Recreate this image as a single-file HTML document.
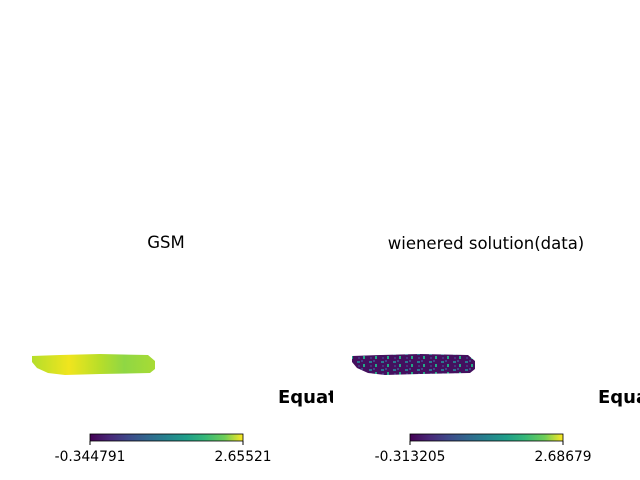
<!DOCTYPE html>
<html><head><meta charset="utf-8"><style>
body{margin:0;background:#fff;}
svg{display:block;font-family:"DejaVu Sans","Liberation Sans",sans-serif;}
</style></head><body>
<svg width="640" height="480" viewBox="0 0 640 480">
<defs>
<linearGradient id="vir" x1="0" x2="1" y1="0" y2="0">
<stop offset="0" stop-color="#440154"/><stop offset="0.13" stop-color="#482878"/>
<stop offset="0.25" stop-color="#3e4989"/><stop offset="0.38" stop-color="#31688e"/>
<stop offset="0.5" stop-color="#26828e"/><stop offset="0.63" stop-color="#1f9e89"/>
<stop offset="0.75" stop-color="#35b779"/><stop offset="0.88" stop-color="#6ece58"/>
<stop offset="1" stop-color="#fde725"/></linearGradient>
<linearGradient id="gsm" x1="0" x2="1" y1="0" y2="0">
<stop offset="0" stop-color="#b5de2b"/><stop offset="0.3" stop-color="#f0e51e"/>
<stop offset="0.55" stop-color="#b8de29"/><stop offset="0.75" stop-color="#8fd744"/>
<stop offset="1" stop-color="#a8db34"/></linearGradient>
<pattern id="noise" width="12" height="8" patternUnits="userSpaceOnUse">
<rect width="12" height="8" fill="#44105e"/>
<rect x="1" y="1" width="3" height="2" fill="#2a788e"/>
<rect x="7" y="4" width="2" height="3" fill="#22a884"/>
<rect x="5" y="0" width="2" height="2" fill="#414487"/>
<rect x="2" y="5" width="2" height="2" fill="#46337e"/>
</pattern>
<path id="strip" d="M32,356 L60,355 L100,354 L148,355 L155,361 L155,369 L150,373 L100,374 L65,375 L48,373 L37,368 L32,362 Z"/>
</defs>
<text x="166" y="248" font-size="16.5" text-anchor="middle">GSM</text>
<text x="486" y="249" font-size="16.5" text-anchor="middle">wienered solution(data)</text>
<use href="#strip" fill="url(#gsm)"/>
<use href="#strip" transform="translate(320,0)" fill="url(#noise)"/>
<svg x="0" y="380" width="333" height="30">
<text x="278" y="23" font-size="18" font-weight="bold">Equatorial</text></svg>
<text x="598" y="403" font-size="18" font-weight="bold">Equatorial</text>
<g>
<rect x="90" y="434" width="153" height="7" fill="url(#vir)" stroke="#000" stroke-width="0.8"/>
<line x1="90" y1="441" x2="90" y2="445" stroke="#000"/><line x1="243" y1="441" x2="243" y2="445" stroke="#000"/>
<text x="90" y="461" font-size="13.8" text-anchor="middle">-0.344791</text>
<text x="243" y="461" font-size="13.8" text-anchor="middle">2.65521</text></g>
<g>
<rect x="410" y="434" width="153" height="7" fill="url(#vir)" stroke="#000" stroke-width="0.8"/>
<line x1="410" y1="441" x2="410" y2="445" stroke="#000"/><line x1="563" y1="441" x2="563" y2="445" stroke="#000"/>
<text x="410" y="461" font-size="13.8" text-anchor="middle">-0.313205</text>
<text x="563" y="461" font-size="13.8" text-anchor="middle">2.68679</text></g>
</svg>
</body></html>
